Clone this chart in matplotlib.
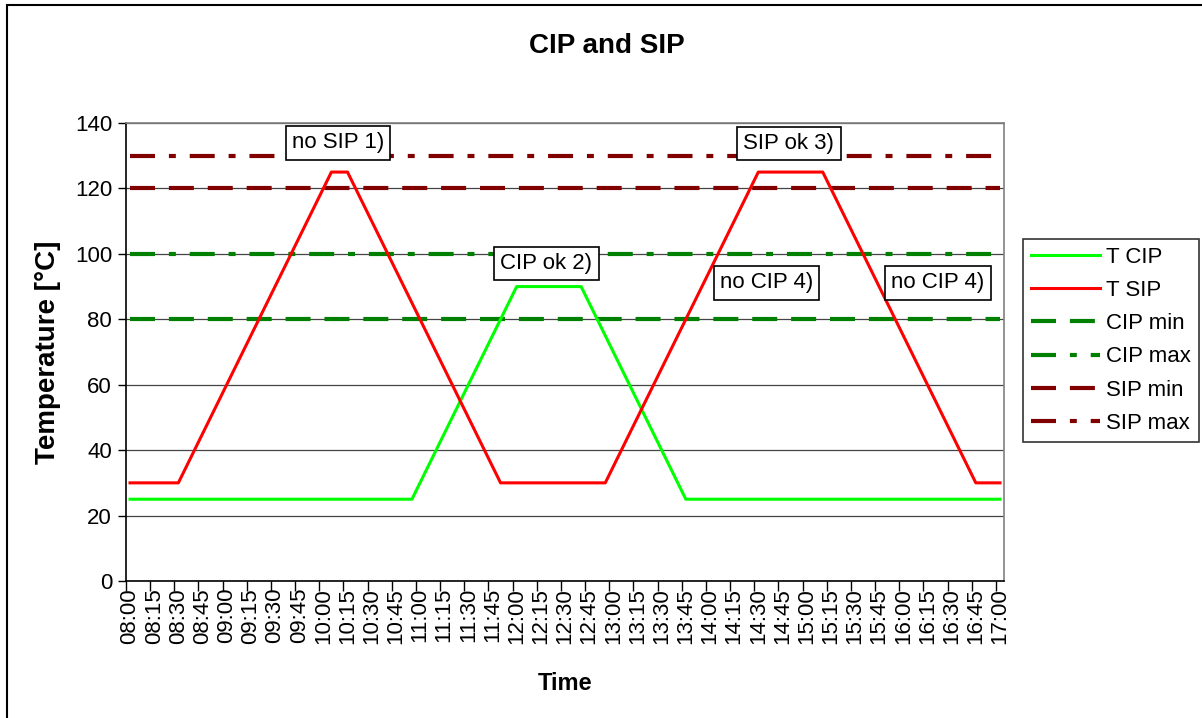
import numpy as np
import matplotlib
matplotlib.use("Agg")
import matplotlib.pyplot as plt
from matplotlib.patches import Rectangle

plt.rcParams["font.family"] = ["Liberation Sans", "DejaVu Sans"]
plt.rcParams["lines.scale_dashes"] = False

# 5-minute samples 08:00 .. 17:00
times = [f"{h:02d}:{m:02d}" for h in range(8, 18) for m in range(0, 60, 5)][:109]

t_cip = [
    25, 25, 25, 25, 25, 25, 25, 25, 25, 25, 25, 25,
    25, 25, 25, 25, 25, 25, 25, 25, 25, 25, 25, 25,
    25, 25, 25, 25, 25, 25, 25, 25, 25, 25, 25, 25,
    30, 35, 40, 45, 50, 55, 60, 65, 70, 75, 80, 85, 90,
    90, 90, 90, 90, 90, 90, 90, 90,
    85, 80, 75, 70, 65, 60, 55, 50, 45, 40, 35, 30, 25,
    25, 25, 25, 25, 25, 25, 25, 25, 25, 25, 25, 25, 25,
    25, 25, 25, 25, 25, 25, 25, 25, 25, 25, 25, 25, 25,
    25, 25, 25, 25, 25, 25, 25, 25, 25, 25, 25, 25, 25,
]
t_sip = [
    30, 30, 30, 30, 30, 30, 30,
    35, 40, 45, 50, 55, 60, 65, 70, 75, 80, 85, 90, 95, 100, 105, 110, 115, 120, 125,
    125, 125,
    120, 115, 110, 105, 100, 95, 90, 85, 80, 75, 70, 65, 60, 55, 50, 45, 40, 35, 30,
    30, 30, 30, 30, 30, 30, 30, 30, 30, 30, 30, 30, 30,
    35, 40, 45, 50, 55, 60, 65, 70, 75, 80, 85, 90, 95, 100, 105, 110, 115, 120, 125,
    125, 125, 125, 125, 125, 125, 125, 125,
    120, 115, 110, 105, 100, 95, 90, 85, 80, 75, 70, 65, 60, 55, 50, 45, 40, 35, 30,
    30, 30, 30,
]
cip_min, cip_max = 80, 100
sip_min, sip_max = 120, 130

notes = ["no SIP 1)", "CIP ok 2)", "SIP ok 3)", "no CIP 4)", "no CIP 4)"]
note_x = [26.3, 52.2, 82.3, 79.5, 100.8]
note_y = [133.9, 97.1, 133.7, 91.1, 91.1]

n = len(times)
x = np.arange(n) + 0.5

fig = plt.figure(figsize=(12.02, 7.18), dpi=100)
ax = fig.add_axes([126 / 1202, 1 - 581 / 718, 878 / 1202, 458 / 718])

dash = (0, (18, 10))
dashdot = (0, (18, 10, 5, 10))
ax.plot(x, t_cip, color="#00ff00", lw=2.2, label="T CIP", zorder=4)
ax.plot(x, t_sip, color="#ff0000", lw=2.2, label="T SIP", zorder=4)
ax.plot(x, np.full(n, cip_min), color="#008000", lw=3, ls=dash, label="CIP min", zorder=3)
ax.plot(x, np.full(n, cip_max), color="#008000", lw=3, ls=dashdot, label="CIP max", zorder=3)
ax.plot(x, np.full(n, sip_min), color="#800000", lw=3, ls=dash, label="SIP min", zorder=3)
ax.plot(x, np.full(n, sip_max), color="#800000", lw=3, ls=dashdot, label="SIP max", zorder=3)

for txt, nx, ny in zip(notes, note_x, note_y):
    ax.text(nx, ny, txt, ha="center", va="center", fontsize=16, zorder=5,
            bbox=dict(boxstyle="square,pad=0.28", fc="white", ec="black", lw=1.2))

ax.set_xlim(0, n)
ax.set_ylim(0, 140)
ax.set_yticks(range(0, 141, 20))
ax.yaxis.grid(True, color="#444444", lw=0.9)
ax.set_axisbelow(True)
ax.tick_params(axis="y", labelsize=16, length=6, width=1, direction="out", pad=4)

lab_idx = list(range(0, n, 3))
ax.set_xticks(x[lab_idx])
ax.set_xticklabels([times[i] for i in lab_idx], rotation=90, fontsize=16)
ax.set_xticks(lab_idx, minor=True)
ax.tick_params(axis="x", which="major", length=0, pad=5)
ax.tick_params(axis="x", which="minor", length=7, width=1, direction="out")

for s in ["top", "right"]:
    ax.spines[s].set_color("#808080")
    ax.spines[s].set_linewidth(1.2)
for s in ["left", "bottom"]:
    ax.spines[s].set_color("black")
    ax.spines[s].set_linewidth(1.2)

ax.set_xlabel("Time", fontsize=17, fontweight="bold", labelpad=20)
ax.set_ylabel("Temperature [°C]", fontsize=20, fontweight="bold", labelpad=10)
fig.text(607 / 1202, 1 - 46 / 718, "CIP and SIP", fontsize=20, fontweight="bold",
         ha="center", va="center")

leg = ax.legend(loc="upper left", bbox_to_anchor=(1023 / 1202, 1 - 239 / 718),
                bbox_transform=fig.transFigure, fontsize=16, frameon=True,
                fancybox=False, handlelength=3.1, handletextpad=0.3,
                labelspacing=0.55, borderpad=0.35, borderaxespad=0)
leg.get_frame().set_edgecolor("black")
leg.get_frame().set_linewidth(1.2)

fig.patches.append(Rectangle((6.5 / 1202, -0.1), 1.2, 1.1 - 5 / 718, fill=False,
                             ec="black", lw=1.5, transform=fig.transFigure, figure=fig))

fig.savefig("out.png", dpi=100)
